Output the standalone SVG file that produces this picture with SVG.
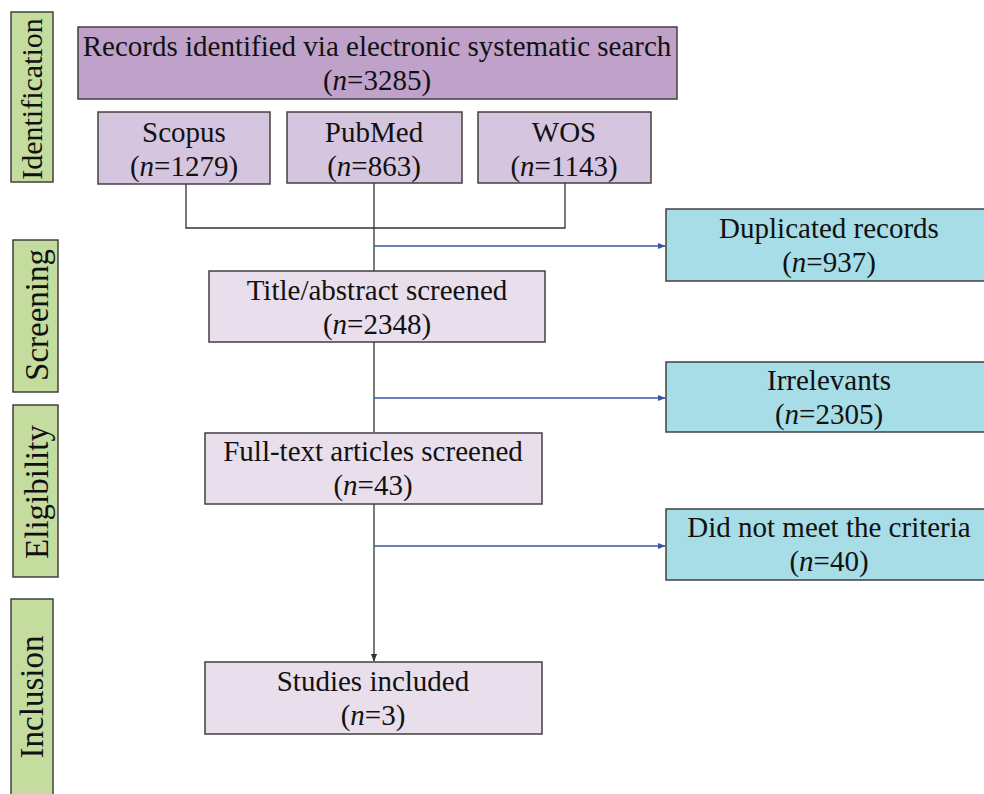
<svg xmlns="http://www.w3.org/2000/svg" width="984" height="794" viewBox="0 0 984 794">
<defs>
<style>
.t{font-family:"Liberation Serif","Times New Roman",serif;font-size:29px;fill:#111;text-anchor:middle}
.s{font-family:"Liberation Serif","Times New Roman",serif;font-size:33px;fill:#111;text-anchor:middle}
.box{stroke:#404040;stroke-width:1.5}
.green{fill:#c4dd9f}
.p1{fill:#bfa1ca}
.p2{fill:#d6c5df}
.p3{fill:#e8deec}
.b{fill:#a6dde7}
.k{stroke:#333;stroke-width:1.3;fill:none}
.bl{stroke:#3a55a0;stroke-width:1.3;fill:none}
</style>
<marker id="ak" viewBox="0 0 10 10" refX="9" refY="5" markerWidth="6" markerHeight="6" orient="auto"><path d="M0,1 L10,5 L0,9 z" fill="#333"/></marker>
<marker id="ab" viewBox="0 0 10 10" refX="9" refY="5" markerWidth="6" markerHeight="6" orient="auto"><path d="M0,1 L10,5 L0,9 z" fill="#3a55a0"/></marker>
</defs>
<rect width="984" height="794" fill="#fff"/>
<g id="stage-identification"><rect class="box green" x="11" y="12" width="42" height="170"/><text class="s" style="font-size:30px" transform="translate(42,99) rotate(-90)">Identification</text></g>
<g id="stage-screening"><rect class="box green" x="13" y="240" width="45" height="152"/><text class="s" transform="translate(48,315) rotate(-90)">Screening</text></g>
<g id="stage-eligibility"><rect class="box green" x="13" y="405" width="45" height="172"/><text class="s" transform="translate(48,492) rotate(-90)">Eligibility</text></g>
<g id="stage-inclusion"><rect class="box green" x="11" y="599" width="42" height="200"/><text class="s" transform="translate(43,697) rotate(-90)">Inclusion</text></g>
<g id="connectors">
<polyline class="k" points="186,184 186,228 565,228 565,183"/>
<line class="k" x1="374" y1="183" x2="374" y2="271"/>
<line class="k" x1="374" y1="342" x2="374" y2="432"/>
<line class="k" x1="374" y1="504" x2="374" y2="661" marker-end="url(#ak)"/>
<line class="bl" x1="374" y1="246" x2="665" y2="246" marker-end="url(#ab)"/>
<line class="bl" x1="374" y1="398" x2="665" y2="398" marker-end="url(#ab)"/>
<line class="bl" x1="374" y1="546" x2="665" y2="546" marker-end="url(#ab)"/>
</g>
<g id="records"><rect class="box p1" x="78" y="27" width="599" height="72"/><text class="t" x="377" y="56">Records identified via electronic systematic search</text><text class="t" x="377" y="90">(<tspan font-style="italic">n</tspan>=3285)</text></g>
<g id="scopus"><rect class="box p2" x="98" y="112" width="172" height="72"/><text class="t" x="184" y="142">Scopus</text><text class="t" x="184" y="176">(<tspan font-style="italic">n</tspan>=1279)</text></g>
<g id="pubmed"><rect class="box p2" x="287" y="112" width="175" height="71"/><text class="t" x="374" y="142">PubMed</text><text class="t" x="374" y="176">(<tspan font-style="italic">n</tspan>=863)</text></g>
<g id="wos"><rect class="box p2" x="478" y="112" width="173" height="71"/><text class="t" x="564" y="142">WOS</text><text class="t" x="564" y="176">(<tspan font-style="italic">n</tspan>=1143)</text></g>
<g id="duplicated"><rect class="box b" x="666" y="209" width="330" height="72"/><text class="t" x="829" y="238">Duplicated records</text><text class="t" x="829" y="272">(<tspan font-style="italic">n</tspan>=937)</text></g>
<g id="title-abstract"><rect class="box p3" x="209" y="271" width="336" height="71"/><text class="t" x="377" y="300">Title/abstract screened</text><text class="t" x="377" y="334">(<tspan font-style="italic">n</tspan>=2348)</text></g>
<g id="irrelevants"><rect class="box b" x="666" y="362" width="330" height="70"/><text class="t" x="829" y="390">Irrelevants</text><text class="t" x="829" y="424">(<tspan font-style="italic">n</tspan>=2305)</text></g>
<g id="full-text"><rect class="box p3" x="205" y="433" width="337" height="71"/><text class="t" x="373" y="461">Full-text articles screened</text><text class="t" x="373" y="495">(<tspan font-style="italic">n</tspan>=43)</text></g>
<g id="not-criteria"><rect class="box b" x="666" y="509" width="330" height="71"/><text class="t" x="829" y="537">Did not meet the criteria</text><text class="t" x="829" y="571">(<tspan font-style="italic">n</tspan>=40)</text></g>
<g id="included"><rect class="box p3" x="205" y="662" width="337" height="72"/><text class="t" x="373" y="691">Studies included</text><text class="t" x="373" y="725">(<tspan font-style="italic">n</tspan>=3)</text></g>
</svg>
